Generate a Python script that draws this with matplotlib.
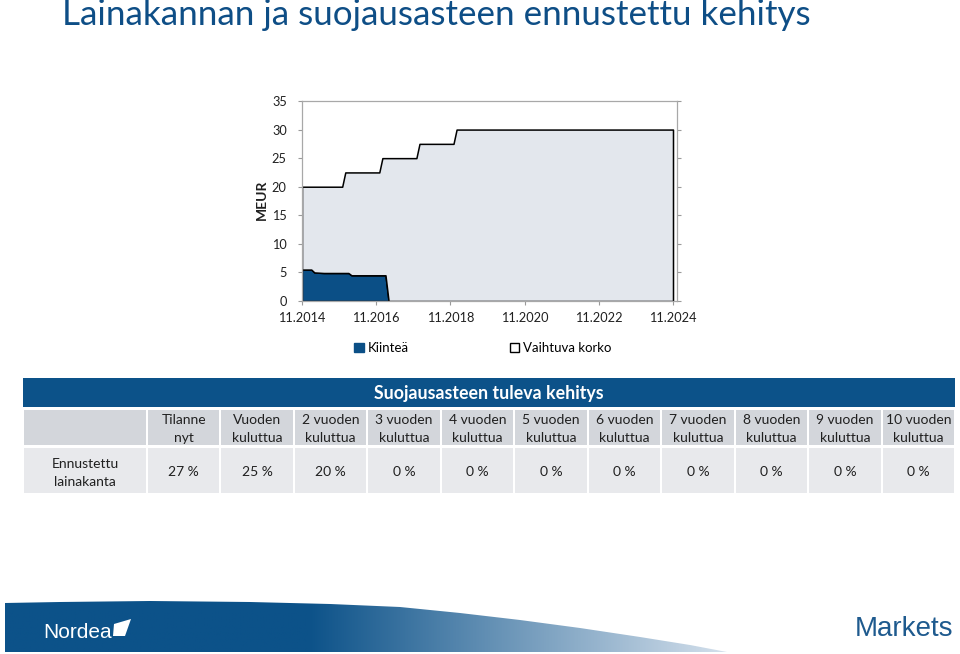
import numpy as np
import matplotlib
matplotlib.use("Agg")
import matplotlib.pyplot as plt
from matplotlib.patches import Rectangle, Patch, Polygon

plt.rcParams["font.family"] = ["Lato", "DejaVu Sans"]

# --- chart data (months since 11.2014) ---
months = [0, 3, 4, 7, 13, 14, 15, 16, 25, 26, 27, 28, 37, 38, 49, 50, 120]
fixed = [5.5, 5.5, 5.0, 4.9, 4.9, 4.9, 4.9, 4.5, 4.5, 4.5, 4.5, 0, 0, 0, 0, 0, 0]
variable = [14.5, 14.5, 15.0, 15.1, 15.1, 17.6, 17.6, 18.0, 18.0, 20.5, 20.5, 25.0, 25.0, 27.5, 27.5, 30.0, 30.0]
tick_months = [0, 24, 48, 72, 96, 120]
tick_labels = ["11.2014", "11.2016", "11.2018", "11.2020", "11.2022", "11.2024"]
series_names = ["Kiinteä", "Vaihtuva korko"]

# --- table data ---
table_title = "Suojausasteen tuleva kehitys"
col_heads = ["Tilanne\nnyt", "Vuoden\nkuluttua", "2 vuoden\nkuluttua", "3 vuoden\nkuluttua",
             "4 vuoden\nkuluttua", "5 vuoden\nkuluttua", "6 vuoden\nkuluttua", "7 vuoden\nkuluttua",
             "8 vuoden\nkuluttua", "9 vuoden\nkuluttua", "10 vuoden\nkuluttua"]
row_label = "Ennustettu\nlainakanta"
hedge_pct = [27, 25, 20, 0, 0, 0, 0, 0, 0, 0, 0]

W, H = 960, 654
BLUE = "#0C5289"
fig = plt.figure(figsize=(W / 100, H / 100), dpi=100)

# background canvas in pixel coordinates
bg = fig.add_axes([0, 0, 1, 1])
bg.set_xlim(0, W); bg.set_ylim(H, 0); bg.axis("off")

bg.text(62, 15, "Lainakannan ja suojausasteen ennustettu kehitys", fontsize=25.2,
        color="#0E4E86", ha="left", va="center")

# --- chart ---
L, R, T, B = 302, 677, 101, 301
ax = fig.add_axes([L / W, 1 - B / H, (R - L) / W, (B - T) / H])
ax.stackplot(months, fixed, variable, colors=["#0B4F86", "#E3E7ED"],
             edgecolor="black", linewidth=1.1)
ax.set_xlim(0, 120 * (R - L) / (673 - L))
ax.set_ylim(0, 35)
ax.set_xticks(tick_months); ax.set_xticklabels(tick_labels)
ax.set_yticks(range(0, 36, 5))
ax.tick_params(axis="both", labelsize=9.2, color="#9A9A9A", length=3, labelcolor="#202020")
ax.tick_params(axis="x", pad=5)
ax.tick_params(axis="y", pad=8, right=True)
for s in ax.spines.values():
    s.set_color("#A8A8A8"); s.set_linewidth(0.9)
ax.set_facecolor("white")
fig.text(262 / W, 1 - 200 / H, "MEUR", rotation=90, fontsize=10, fontweight="bold",
         ha="center", va="center", color="#202020")

handles = [Patch(facecolor="#0B4F86", edgecolor="#0B4F86"),
           Patch(facecolor="white", edgecolor="black")]
fig.legend(handles, series_names, loc="center", bbox_to_anchor=(483 / W, 1 - 348 / H), ncol=2,
           frameon=False, fontsize=9.5, handlelength=0.75, handleheight=0.75, handletextpad=0.3,
           columnspacing=7.6)

# --- table ---
bg.add_patch(Rectangle((23, 378), 955 - 23, 29, facecolor=BLUE, edgecolor="none"))
bg.text(489, 394, table_title, color="white", fontsize=12.8, fontweight="bold", ha="center", va="center")
x0, x1, first_w = 23, 955, 124
cw = (x1 - x0 - first_w) / len(col_heads)
edges = [x0, x0 + first_w] + [x0 + first_w + cw * (i + 1) for i in range(len(col_heads))]
for i in range(len(edges) - 1):
    a, b = edges[i], edges[i + 1]
    bg.add_patch(Rectangle((a + 1, 410), b - a - 2, 35, facecolor="#D3D6DB", edgecolor="none"))
    bg.add_patch(Rectangle((a + 1, 448), b - a - 2, 45, facecolor="#E8E9EC", edgecolor="none"))
    cx = (a + b) / 2
    if i == 0:
        bg.text(cx, 473, row_label, fontsize=10, ha="center", va="center", color="#202020",
                linespacing=1.5)
    else:
        bg.text(cx, 429, col_heads[i - 1], fontsize=10, ha="center", va="center", color="#202020",
                linespacing=1.5)
        bg.text(cx, 472, f"{hedge_pct[i - 1]} %", fontsize=10, ha="center", va="center",
                color="#202020")

# --- footer banner ---
top_x = [5, 60, 150, 250, 330, 400, 460, 520, 580, 640, 690, 727]
top_y = [603, 602, 601, 602, 604, 607, 613, 620, 628, 637, 645, 652]
poly = list(zip(top_x, top_y)) + [(727, 652), (5, 652)]
banner = Polygon(poly, closed=True, facecolor="none", edgecolor="none")
bg.add_patch(banner)
grad = np.linspace(0, 1, 256)
c0 = np.array([0x0C, 0x52, 0x89]) / 255
c1 = np.array([0xD4, 0xE0, 0xEC]) / 255
t = np.clip((grad - 0.42) / 0.58, 0, 1)[:, None]
img = (c0 * (1 - t) + c1 * t)[None, :, :]
im = bg.imshow(img, extent=(5, 727, 652, 600), aspect="auto", zorder=1)
im.set_clip_path(banner)
bg.set_xlim(0, W); bg.set_ylim(H, 0)
bg.text(43, 633, "Nordea", color="white", fontsize=15, ha="left", va="center", zorder=3,
        family=["Liberation Sans", "DejaVu Sans"])
bg.add_patch(Polygon([(114, 624), (131, 619), (125, 636), (113, 636)], closed=True,
                     facecolor="white", edgecolor="none", zorder=3))
bg.text(855, 629, "Markets", color="#1E5A8E", fontsize=20, ha="left", va="center",
        family=["Liberation Sans", "DejaVu Sans"])

fig.savefig("out.png", dpi=100)
